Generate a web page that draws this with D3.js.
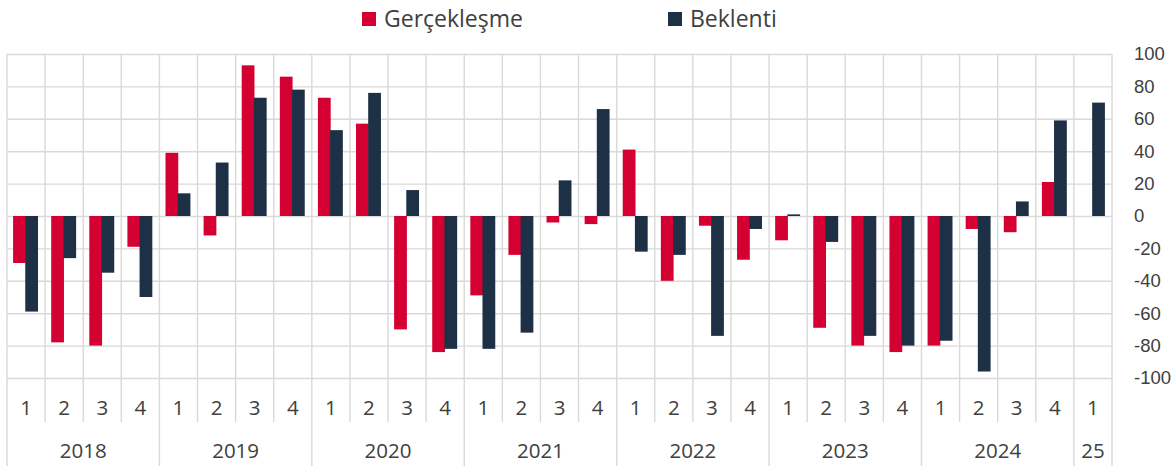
<!DOCTYPE html>
<html>
<head>
<meta charset="utf-8">
<script src="https://cdn.jsdelivr.net/npm/d3@7"></script>
<style>
  body { margin: 0; background: #fff; }
  svg { display: block; font-family: "Open Sans", sans-serif; }
  .grid line { stroke: #d9d9d9; stroke-width: 1.4; }
  .tick text { fill: #404040; }
</style>
</head>
<body>
<script>
var quarters = ["1","2","3","4","1","2","3","4","1","2","3","4","1","2","3","4",
                "1","2","3","4","1","2","3","4","1","2","3","4","1"];
var years = ["2018","2019","2020","2021","2022","2023","2024","25"];
var quartersPerYear = [4, 4, 4, 4, 4, 4, 4, 1];
var gerceklesme = [-29, -78, -80, -19, 39, -12, 93, 86, 73, 57, -70, -84,
                   -49, -24, -4, -5, 41, -40, -6, -27, -15, -69, -80, -84,
                   -80, -8, -10, 21, null];
var beklenti = [-59, -26, -35, -50, 14, 33, 73, 78, 53, 76, 16, -82,
                -82, -72, 22, 66, -22, -24, -74, -8, 1, -16, -74, -80,
                -77, -96, 9, 59, 70];
var yTicks = [100, 80, 60, 40, 20, 0, -20, -40, -60, -80, -100];

var W = 1173, H = 466;
var plotLeft = 7, plotRight = 1112, plotTop = 54, plotBottom = 378;
var xFont = 20.5, yFont = 18.5;

var svg = d3.select("body").append("svg")
    .attr("width", W)
    .attr("height", H);

var x = d3.scaleBand().domain(d3.range(quarters.length)).range([plotLeft, plotRight]).padding(0);
var y = d3.scaleLinear().domain([-100, 100]).range([plotBottom, plotTop]);
var bw = x.bandwidth();
var barW = bw * 0.335;

// horizontal gridlines + right axis labels
var yAxis = svg.append("g")
    .attr("class", "grid")
    .attr("transform", "translate(" + plotRight + ",0)")
    .call(d3.axisRight(y).tickValues(yTicks).tickSize(-(plotRight - plotLeft)).tickPadding(22)
        .tickFormat(function(d) { return d; }));
yAxis.select(".domain").remove();
yAxis.selectAll("text").attr("font-size", yFont).attr("text-anchor", "start");

// vertical gridlines (every quarter), longer at year boundaries
var yearStarts = [0];
quartersPerYear.forEach(function(n, i) { yearStarts.push(yearStarts[i] + n); });
var bounds = d3.range(quarters.length + 1);
svg.append("g").attr("class", "grid")
  .selectAll("line")
  .data(bounds)
  .enter().append("line")
    .attr("x1", function(d) { return d < quarters.length ? x(d) : plotRight; })
    .attr("x2", function(d) { return d < quarters.length ? x(d) : plotRight; })
    .attr("y1", plotTop)
    .attr("y2", function(d) { return yearStarts.indexOf(d) >= 0 ? H : 422; });

// bars
svg.append("g").selectAll("rect")
    .data(gerceklesme)
    .enter().append("rect")
    .attr("fill", "#d50032")
    .attr("x", function(d, i) { return x(i) + bw / 2 - barW - 0.2; })
    .attr("width", barW)
    .attr("y", function(d) { return y(Math.max(0, d || 0)); })
    .attr("height", function(d) { return d == null ? 0 : Math.abs(y(d) - y(0)); });

svg.append("g").selectAll("rect")
    .data(beklenti)
    .enter().append("rect")
    .attr("fill", "#1d3046")
    .attr("x", function(d, i) { return x(i) + bw / 2 - 0.8; })
    .attr("width", barW)
    .attr("y", function(d) { return y(Math.max(0, d)); })
    .attr("height", function(d) { return Math.abs(y(d) - y(0)); });

// quarter labels
svg.append("g").selectAll("text")
    .data(quarters)
    .enter().append("text")
    .attr("x", function(d, i) { return x(i) + bw / 2; })
    .attr("y", 408)
    .attr("dy", "0.35em")
    .attr("text-anchor", "middle")
    .attr("font-size", xFont)
    .attr("fill", "#404040")
    .text(function(d) { return d; });

// year labels
svg.append("g").selectAll("text")
    .data(years)
    .enter().append("text")
    .attr("x", function(d, i) {
        var a = x(yearStarts[i]);
        var b = yearStarts[i + 1] < quarters.length ? x(yearStarts[i + 1]) : plotRight;
        return (a + b) / 2; })
    .attr("y", 451)
    .attr("dy", "0.35em")
    .attr("text-anchor", "middle")
    .attr("font-size", xFont)
    .attr("fill", "#404040")
    .text(function(d) { return d; });

// legend
var legend = [{name: "Gerçekleşme", color: "#d50032", x: 362},
              {name: "Beklenti", color: "#1d3046", x: 668}];
var lg = svg.append("g").selectAll("g")
    .data(legend)
    .enter().append("g")
    .attr("transform", function(d) { return "translate(" + d.x + ",12)"; });
lg.append("rect").attr("width", 14).attr("height", 14).attr("fill", function(d) { return d.color; });
lg.append("text")
    .attr("x", 22).attr("y", 7).attr("dy", "0.35em")
    .attr("font-size", 23)
    .attr("fill", "#404040")
    .text(function(d) { return d.name; });
</script>
</body>
</html>
